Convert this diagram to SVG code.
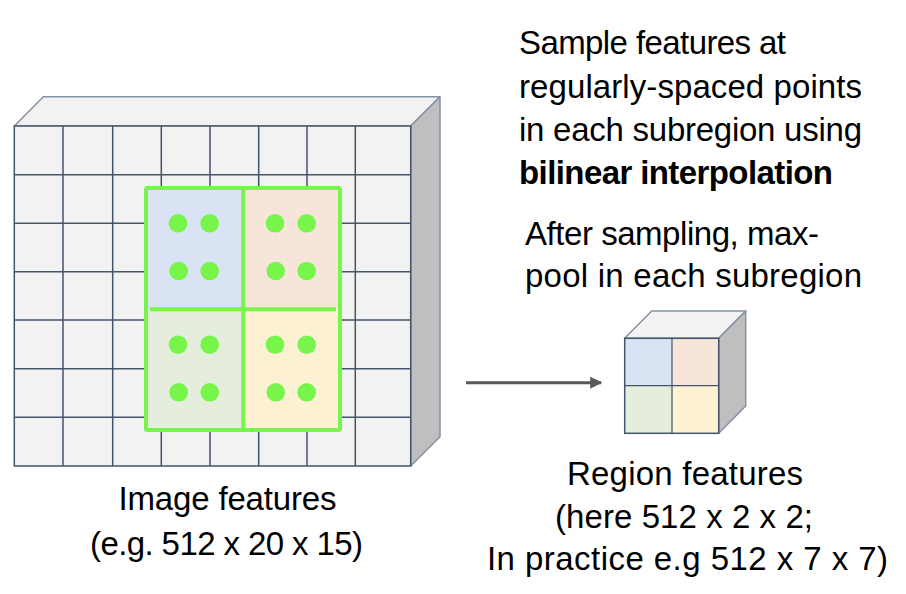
<svg xmlns="http://www.w3.org/2000/svg" width="906" height="594" viewBox="0 0 906 594">
<style>
.face{fill:#F2F2F2;stroke:#44546A;stroke-width:1.5}
.top{fill:#F2F2F2;stroke:#8591A4;stroke-width:1.5;stroke-linejoin:round}
.side{fill:#BFBFBF;stroke:#8591A4;stroke-width:1.5;stroke-linejoin:round}
.grid{stroke:#44546A;stroke-width:1.5;fill:none}
.q1{fill:#DAE3F3}.q2{fill:#F8E5DA}.q3{fill:#E5EEDC}.q4{fill:#FCF2D3}
.gl{stroke:#77F54B;stroke-width:4;fill:none;stroke-linejoin:round}
.dot{fill:#77F54B}
.t{font-family:"Liberation Sans",Arial,sans-serif;font-size:33px;fill:#000}
.b{font-weight:bold}
.m{text-anchor:middle}
</style>
<defs>
<marker id="ah" viewBox="0 0 10 10" refX="9" refY="5" markerWidth="4" markerHeight="4" orient="auto" markerUnits="strokeWidth">
<path d="M0,0 L10,5 L0,10 z" fill="#595959"/>
</marker>
</defs>
<g id="image-features">
<polygon class="top" points="14.3,126 43.3,96.7 440,96.7 410.7,126"/>
<polygon class="side" points="410.7,126 440,96.7 440,436.7 410.7,466"/>
<rect class="face" x="14.3" y="126" width="396.4" height="340"/>
<path class="grid" d="M63,126V466M112.7,126V466M161.3,126V466M210,126V466M258.7,126V466M307,126V466M355.3,126V466M14.3,174.7H410.7M14.3,223.3H410.7M14.3,271.7H410.7M14.3,320H410.7M14.3,368.7H410.7M14.3,417.3H410.7"/>
<rect class="q1" x="146" y="188" width="97.3" height="121.3"/>
<rect class="q2" x="243.3" y="188" width="96.7" height="121.3"/>
<rect class="q3" x="146" y="309.3" width="97.3" height="120.7"/>
<rect class="q4" x="243.3" y="309.3" width="96.7" height="120.7"/>
<rect class="gl" x="146" y="188" width="194" height="242" rx="1.5"/>
<path class="gl" d="M243.3,188V430M150,309.3H336"/>
<g class="dot">
<circle cx="178" cy="223.3" r="9.3"/><circle cx="209.7" cy="223.3" r="9.3"/>
<circle cx="178.7" cy="271" r="9.3"/><circle cx="209.7" cy="271" r="9.3"/>
<circle cx="275" cy="223.3" r="9.3"/><circle cx="306.7" cy="223.3" r="9.3"/>
<circle cx="275.7" cy="271" r="9.3"/><circle cx="306.7" cy="271" r="9.3"/>
<circle cx="178" cy="344.7" r="9.3"/><circle cx="209.7" cy="344.7" r="9.3"/>
<circle cx="178.7" cy="392.3" r="9.3"/><circle cx="209.7" cy="392.3" r="9.3"/>
<circle cx="275" cy="344.7" r="9.3"/><circle cx="306.7" cy="344.7" r="9.3"/>
<circle cx="275.7" cy="392.3" r="9.3"/><circle cx="306.7" cy="392.3" r="9.3"/>
</g>
</g>
<g id="region-features">
<polygon class="top" points="624.7,338.3 651.7,311 745.7,311 718.7,338.3"/>
<polygon class="side" points="718.7,338.3 745.7,311 745.7,406 718.7,433.3"/>
<rect class="q1" x="624.7" y="338.3" width="47.3" height="47.4"/>
<rect class="q2" x="672" y="338.3" width="46.7" height="47.4"/>
<rect class="q3" x="624.7" y="385.7" width="47.3" height="47.6"/>
<rect class="q4" x="672" y="385.7" width="46.7" height="47.6"/>
<rect x="624.7" y="338.3" width="94" height="95" fill="none" stroke="#44546A" stroke-width="1.5"/>
<path d="M672,338.3V433.3M624.7,385.7H718.7" stroke="#44546A" stroke-width="1.2" fill="none"/>
</g>
<g id="connectors">
<line x1="466" y1="382.7" x2="601" y2="382.7" stroke="#595959" stroke-width="3" marker-end="url(#ah)"/>
</g>
<g id="labels">
<text class="t" x="519" y="54" textLength="267">Sample features at</text>
<text class="t" x="519" y="98" textLength="343">regularly-spaced points</text>
<text class="t" x="519" y="141" textLength="343">in each subregion using</text>
<text class="t b" x="519" y="184" textLength="314">bilinear interpolation</text>
<text class="t" x="525" y="245" textLength="294">After sampling, max-</text>
<text class="t" x="525" y="287" textLength="337">pool in each subregion</text>
<text class="t m" x="227.5" y="510" textLength="218">Image features</text>
<text class="t m" x="226.5" y="555" textLength="273">(e.g. 512 x 20 x 15)</text>
<text class="t m" x="685" y="485" textLength="236">Region features</text>
<text class="t m" x="684" y="528" textLength="258">(here 512 x 2 x 2;</text>
<text class="t m" x="687.5" y="570" textLength="401">In practice e.g 512 x 7 x 7)</text>
</g>
</svg>
